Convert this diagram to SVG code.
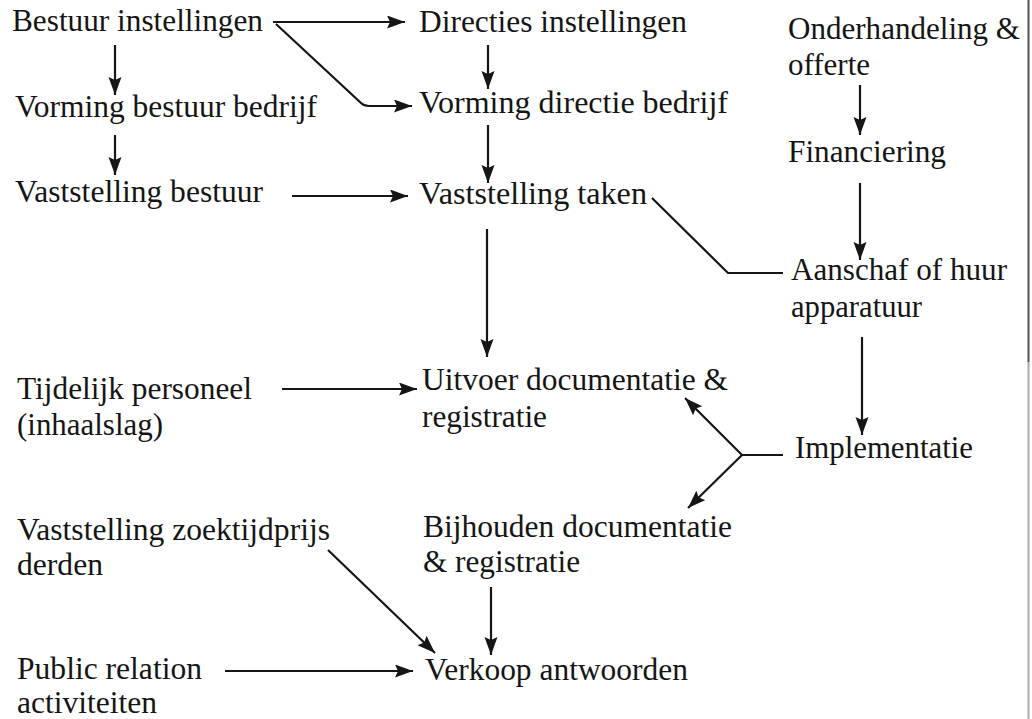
<svg xmlns="http://www.w3.org/2000/svg" width="1032" height="719" viewBox="0 0 1032 719">
<style>
text{font-family:"Liberation Serif","Times New Roman",serif;font-size:31px;fill:#151515}
.c{fill:none;stroke:#151515;stroke-width:2.2}
</style>
<defs>
<marker id="ah" markerUnits="userSpaceOnUse" markerWidth="20" markerHeight="14" refX="18" refY="6.5" orient="auto">
<path d="M0,0 L18,6.5 L0,13 L3,6.5 Z" fill="#151515"/>
</marker>
</defs>
<rect width="1032" height="719" fill="#fff"/>
<line x1="1028.5" y1="0" x2="1028.5" y2="362" stroke="#555" stroke-width="2"/>
<line x1="1028.5" y1="362" x2="1028.5" y2="719" stroke="#aaa" stroke-width="2"/>

<g id="n-bestuur-instellingen"><text x="12" y="31" textLength="251" lengthAdjust="spacingAndGlyphs">Bestuur instellingen</text></g>
<g id="n-directies-instellingen"><text x="419" y="32" textLength="268" lengthAdjust="spacingAndGlyphs">Directies instellingen</text></g>
<g id="n-onderhandeling"><text x="788" y="39" textLength="232" lengthAdjust="spacingAndGlyphs">Onderhandeling &amp;</text><text x="788" y="75">offerte</text></g>
<g id="n-vorming-bestuur"><text x="15" y="117" textLength="302" lengthAdjust="spacingAndGlyphs">Vorming bestuur bedrijf</text></g>
<g id="n-vorming-directie"><text x="419" y="113" textLength="309" lengthAdjust="spacingAndGlyphs">Vorming directie bedrijf</text></g>
<g id="n-financiering"><text x="788" y="162" textLength="158" lengthAdjust="spacingAndGlyphs">Financiering</text></g>
<g id="n-vaststelling-bestuur"><text x="15" y="202" textLength="248" lengthAdjust="spacingAndGlyphs">Vaststelling bestuur</text></g>
<g id="n-vaststelling-taken"><text x="419" y="204" textLength="228" lengthAdjust="spacingAndGlyphs">Vaststelling taken</text></g>
<g id="n-aanschaf"><text x="791" y="280" textLength="216" lengthAdjust="spacingAndGlyphs">Aanschaf of huur</text><text x="791" y="317" textLength="131" lengthAdjust="spacingAndGlyphs">apparatuur</text></g>
<g id="n-tijdelijk"><text x="17" y="399" textLength="235" lengthAdjust="spacingAndGlyphs">Tijdelijk personeel</text><text x="17" y="435" textLength="146" lengthAdjust="spacingAndGlyphs">(inhaalslag)</text></g>
<g id="n-uitvoer"><text x="422" y="390" textLength="306" lengthAdjust="spacingAndGlyphs">Uitvoer documentatie &amp;</text><text x="422" y="427" textLength="125" lengthAdjust="spacingAndGlyphs">registratie</text></g>
<g id="n-implementatie"><text x="795" y="458" textLength="178" lengthAdjust="spacingAndGlyphs">Implementatie</text></g>
<g id="n-zoektijdprijs"><text x="17" y="540" textLength="313" lengthAdjust="spacingAndGlyphs">Vaststelling zoektijdprijs</text><text x="17" y="575" textLength="86" lengthAdjust="spacingAndGlyphs">derden</text></g>
<g id="n-bijhouden"><text x="423" y="537" textLength="309" lengthAdjust="spacingAndGlyphs">Bijhouden documentatie</text><text x="423" y="572" textLength="157" lengthAdjust="spacingAndGlyphs">&amp; registratie</text></g>
<g id="n-verkoop"><text x="425" y="680" textLength="263" lengthAdjust="spacingAndGlyphs">Verkoop antwoorden</text></g>
<g id="n-public"><text x="17" y="679" textLength="185" lengthAdjust="spacingAndGlyphs">Public relation</text><text x="17" y="713" textLength="140" lengthAdjust="spacingAndGlyphs">activiteiten</text></g>

<g id="connectors">
<path class="c" d="M273,22 H405" marker-end="url(#ah)"/>
<path class="c" d="M276,24 L361,103 Q364,106 369,106 H412" marker-end="url(#ah)"/>
<path class="c" d="M115,45 V95" marker-end="url(#ah)"/>
<path class="c" d="M115,135 V175" marker-end="url(#ah)"/>
<path class="c" d="M292,196 H408" marker-end="url(#ah)"/>
<path class="c" d="M488,45 V89" marker-end="url(#ah)"/>
<path class="c" d="M488,125 V183" marker-end="url(#ah)"/>
<path class="c" d="M860,85 V135" marker-end="url(#ah)"/>
<path class="c" d="M860,183 V260" marker-end="url(#ah)"/>
<path class="c" d="M783,273 H728 L652,198"/>
<path class="c" d="M487,229 V357" marker-end="url(#ah)"/>
<path class="c" d="M862,337 V435" marker-end="url(#ah)"/>
<path class="c" d="M783,455 H742 L685,398" marker-end="url(#ah)"/>
<path class="c" d="M742,455 L688,508" marker-end="url(#ah)"/>
<path class="c" d="M282,389 H417" marker-end="url(#ah)"/>
<path class="c" d="M328,550 L435,653" marker-end="url(#ah)"/>
<path class="c" d="M491,587 V655" marker-end="url(#ah)"/>
<path class="c" d="M225,671 H413" marker-end="url(#ah)"/>
</g>
</svg>
